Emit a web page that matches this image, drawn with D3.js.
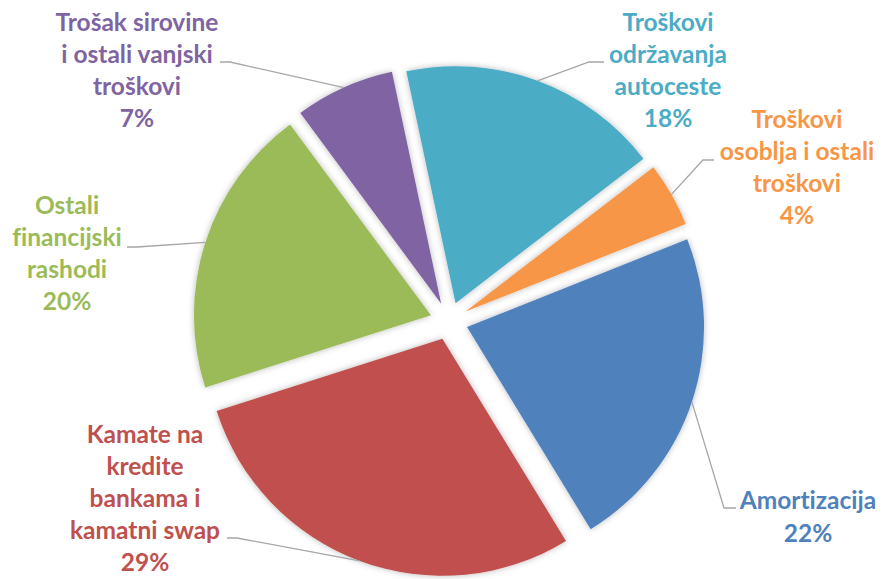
<!DOCTYPE html>
<html lang="hr">
<head>
<meta charset="UTF-8">
<title>Struktura troškova</title>
<script src="https://d3js.org/d3.v7.min.js"></script>
<style>
  body { margin: 0; background: #fff; }
  svg { display: block; }
  .lbl { font-family: Lato, "Open Sans", sans-serif; font-weight: 700; font-size: 24.5px;
         font-variant-ligatures: none; }
</style>
</head>
<body>
<div id="chart"></div>
<script>
// slice data, clockwise from the first slice
const categories = [
  ["Troškovi", "održavanja", "autoceste"],
  ["Troškovi", "osoblja i ostali", "troškovi"],
  ["Amortizacija"],
  ["Kamate na", "kredite", "bankama i", "kamatni swap"],
  ["Ostali", "financijski", "rashodi"],
  ["Trošak sirovine", "i ostali vanjski", "troškovi"]
];
const values = [17.9, 4.4, 22.3, 28.8, 19.8, 6.8];
const percentLabels = ["18%", "4%", "22%", "29%", "20%", "7%"];
const colors = ["#4BACC6", "#F79646", "#4F81BD", "#C0504D", "#9BBB59", "#8064A2"];

// layout
const width = 882, height = 579;
const cx = 449, cy = 321, radius = 237, explode = 19;
const startAngle = -12 * Math.PI / 180;
const lineGap = 32;

// label block: centre x, first baseline, leader bend and leader end
const labelLayout = [
  { x: 668, y: 31,  bend: [589, 62],  end: [604, 62] },
  { x: 797, y: 128, bend: [703, 160], end: [714, 160] },
  { x: 808, y: 509, bend: [724, 508], end: [736, 508], gap: 33 },
  { x: 145, y: 443, bend: [237, 538], end: [227, 538] },
  { x: 67,  y: 214, bend: [137, 247], end: [127, 247] },
  { x: 137, y: 31,  bend: [230, 62],  end: [220, 62] }
];

const svg = d3.select("#chart").append("svg")
  .attr("width", width)
  .attr("height", height);

const defs = svg.append("defs");
const f = defs.append("filter").attr("id", "soft")
  .attr("x", "-20%").attr("y", "-20%").attr("width", "140%").attr("height", "140%");
f.append("feDropShadow")
  .attr("dx", 0).attr("dy", 0)
  .attr("stdDeviation", 3)
  .attr("flood-color", "#000")
  .attr("flood-opacity", 0.28);

const pie = d3.pie()
  .sort(null)
  .value(d => d)
  .startAngle(startAngle)
  .endAngle(startAngle + 2 * Math.PI);

const arcs = pie(values);
const arc = d3.arc().innerRadius(0).outerRadius(radius);

function offset(a) {
  const m = (a.startAngle + a.endAngle) / 2;
  return [explode * Math.sin(m), -explode * Math.cos(m)];
}

const g = svg.append("g").attr("transform", `translate(${cx},${cy})`);

g.selectAll("path.slice")
  .data(arcs)
  .enter()
  .append("path")
  .attr("class", "slice")
  .attr("d", arc)
  .attr("transform", d => `translate(${offset(d)})`)
  .attr("fill", (d, i) => colors[i])
  .attr("filter", "url(#soft)");

// leader lines from the middle of each arc
svg.append("g")
  .selectAll("polyline")
  .data(arcs)
  .enter()
  .append("polyline")
  .attr("points", (d, i) => {
    const m = (d.startAngle + d.endAngle) / 2;
    const [ox, oy] = offset(d);
    const px = cx + ox + radius * Math.sin(m);
    const py = cy + oy - radius * Math.cos(m);
    const L = labelLayout[i];
    return [[px, py], L.bend, L.end].map(p => p.join(",")).join(" ");
  })
  .attr("fill", "none")
  .attr("stroke", "#A6A6A6")
  .attr("stroke-width", 1.3);

// labels
const labels = svg.append("g")
  .selectAll("text")
  .data(arcs)
  .enter()
  .append("text")
  .attr("class", "lbl")
  .attr("text-anchor", "middle")
  .attr("fill", (d, i) => colors[i]);

labels.each(function(d, i) {
  const L = labelLayout[i];
  const gap = L.gap || lineGap;
  const lines = categories[i].concat([percentLabels[i]]);
  d3.select(this).selectAll("tspan")
    .data(lines)
    .enter()
    .append("tspan")
    .attr("x", L.x)
    .attr("y", (t, k) => L.y + k * gap)
    .text(t => t);
});
</script>
</body>
</html>
